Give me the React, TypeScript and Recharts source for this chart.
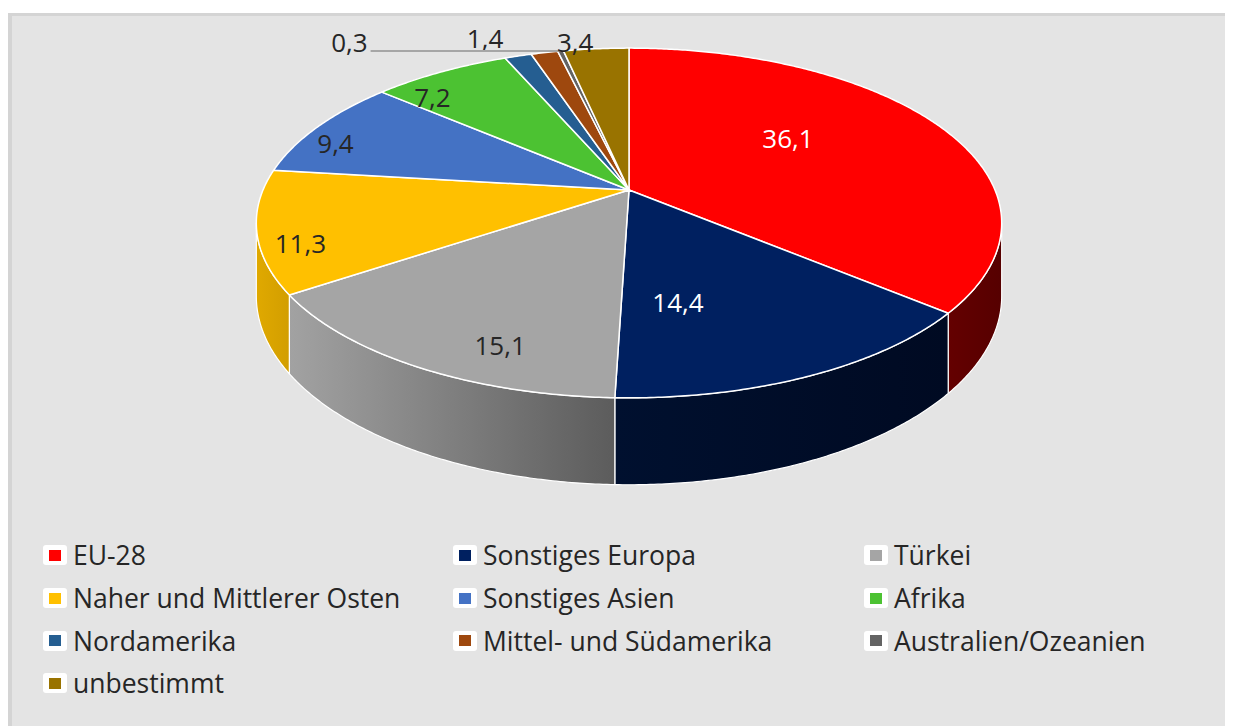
import React from 'react';
import { PieChart, Pie, Cell, Legend } from 'recharts';

// ---- data ----
const categories = [
  'EU-28',
  'Sonstiges Europa',
  'Türkei',
  'Naher und Mittlerer Osten',
  'Sonstiges Asien',
  'Afrika',
  'Nordamerika',
  'Mittel- und Südamerika',
  'Australien/Ozeanien',
  'unbestimmt',
];
const values = [36.1, 14.4, 15.1, 11.3, 9.4, 7.2, 1.4, 1.4, 0.3, 3.4];

// ---- styles ----
const TOP_COLORS = ['#ff0000', '#002060', '#a5a5a5', '#ffc000', '#4472c4', '#4cc232', '#255e91', '#9e480e', '#636363', '#997300'];
const SIDE_COLORS: [string, string][] = [
  ['#640000', '#560000'],
  ['#00102f', '#000a22'],
  ['#a2a2a2', '#5c5c5c'],
  ['#e0a900', '#d29e00'],
  ['#2f5596', '#2a4c88'],
  ['#369020', '#307f1c'],
  ['#1b456b', '#173d5e'],
  ['#73340a', '#652d09'],
  ['#474747', '#3d3d3d'],
  ['#705400', '#624900'],
];
const LABEL_COLORS = ['#ffffff', '#ffffff', '#262626', '#262626', '#262626', '#262626', '#262626', '#262626', '#262626', '#262626'];
// label placement: inside (radius fraction, angle shift) / outside (offset from rim) / leader / hidden
const LABEL_LAYOUT: any[] = [
  { mode: 'in', r: 0.566, d: -10.4 },
  { mode: 'in', r: 0.601, d: 12.7 },
  { mode: 'in', r: 0.838, d: -8 },
  { mode: 'in', r: 0.898, d: -5.8 },
  { mode: 'in', r: 0.896, d: -4.6 },
  { mode: 'in', r: 0.859, d: -7.9 },
  { mode: 'out', dx: -33, dy: -18 },
  { mode: 'none' },
  { mode: 'leader', len: 190 },
  { mode: 'out', dx: -21, dy: -7 },
];

const FONT = '"Open Sans", sans-serif';
const LABEL_SIZE = 26;
const LEGEND_SIZE = 26.5;
const Q = 0.1886; // perspective
const TILT = 0.4608; // vertical squash
const DEPTH = 0.1927; // wall height relative to radius
const SIL = (Math.asin(Q) * 180) / Math.PI;

const data = categories.map((name, i) => ({ name, value: values[i] }));
const fmt = (v: number) => v.toFixed(1).replace('.', ',');

const renderSlice = (props: any) => {
  const { cx, cy, outerRadius, startAngle, endAngle, midAngle, index, value } = props;
  const f = outerRadius;
  const g = outerRadius * TILT;
  const H = outerRadius * DEPTH;
  const proj = (phiDeg: number, k: number, drop = 0): [number, number] => {
    const p = (phiDeg * Math.PI) / 180;
    const u = k * Math.cos(p);
    const v = k * Math.sin(p);
    const w = 1 - Q * v;
    return [cx + (f * u) / w, cy + (g * v + drop) / w];
  };
  const arc = (a: number, b: number, drop: number) => {
    const n = Math.max(2, Math.ceil(Math.abs(b - a) / 0.5));
    const pts: [number, number][] = [];
    for (let i = 0; i <= n; i++) pts.push(proj(a + ((b - a) * i) / n, 1, drop));
    return pts;
  };
  const p1 = Math.min(-startAngle, -endAngle);
  const p2 = Math.max(-startAngle, -endAngle);
  const topPts = arc(p1, p2, 0);
  const topD = `M${cx},${cy} ` + topPts.map((p) => `L${p[0].toFixed(2)},${p[1].toFixed(2)}`).join(' ') + ' Z';

  const lo = Math.max(p1, SIL);
  const hi = Math.min(p2, 180 - SIL);
  let wall: React.ReactNode = null;
  if (hi > lo) {
    const upper = arc(lo, hi, 0);
    const lower = arc(hi, lo, H);
    const d = 'M' + upper.concat(lower).map((p) => `${p[0].toFixed(2)},${p[1].toFixed(2)}`).join(' L') + ' Z';
    wall = (
      <g>
        <defs>
          <linearGradient id={`wallg-${index}`} x1="0" y1="0" x2="1" y2="0">
            <stop offset="0%" stopColor={SIDE_COLORS[index][0]} />
            <stop offset="100%" stopColor={SIDE_COLORS[index][1]} />
          </linearGradient>
        </defs>
        <path d={d} fill={`url(#wallg-${index})`} stroke="#ffffff" strokeWidth={1.2} strokeLinejoin="round" />
      </g>
    );
  }

  const lay = LABEL_LAYOUT[index];
  const text = fmt(value);
  let label: React.ReactNode = null;
  const mid = -midAngle;
  const common = { fill: LABEL_COLORS[index], fontFamily: FONT, fontSize: LABEL_SIZE, dominantBaseline: 'central' as const };
  if (lay.mode === 'in') {
    const [x, y] = proj(mid + lay.d, lay.r);
    label = (
      <text x={x} y={y} textAnchor="middle" {...common}>
        {text}
      </text>
    );
  } else if (lay.mode === 'out') {
    const [x, y] = proj(mid, 1);
    label = (
      <text x={x + lay.dx} y={y + lay.dy} textAnchor="middle" {...common}>
        {text}
      </text>
    );
  } else if (lay.mode === 'leader') {
    const [x, y] = proj(mid, 1);
    label = (
      <g>
        <line x1={x} y1={y} x2={x - lay.len} y2={y} stroke="#a6a6a6" strokeWidth={2} />
        <text x={x - lay.len - 3} y={y - 9} textAnchor="end" {...common}>
          {text}
        </text>
      </g>
    );
  }

  return (
    <g>
      {wall}
      <path d={topD} fill={TOP_COLORS[index]} stroke="#ffffff" strokeWidth={1.5} strokeLinejoin="round" />
      {label}
    </g>
  );
};

const renderLegend = (props: any) => {
  const payload = [...(props.payload || [])].sort(
    (a: any, b: any) => categories.indexOf(a.value) - categories.indexOf(b.value)
  );
  return (
    <div
      style={{
        display: 'grid',
        gridTemplateColumns: '410px 411px 360px',
        fontFamily: FONT,
        fontSize: LEGEND_SIZE,
        color: '#262626',
      }}
    >
      {payload.map((p: any, i: number) => (
        <div key={i} style={{ display: 'flex', alignItems: 'center', height: 42.7 }}>
          <span
            style={{
              width: 24,
              height: 20,
              background: '#ffffff',
              borderRadius: 3,
              display: 'flex',
              alignItems: 'center',
              justifyContent: 'center',
              marginRight: 6,
              flexShrink: 0,
            }}
          >
            <span style={{ width: 12, height: 11, background: p.color, display: 'block' }} />
          </span>
          <span style={{ whiteSpace: 'nowrap' }}>{p.value}</span>
        </div>
      ))}
    </div>
  );
};

export default function App() {
  return (
    <div style={{ width: 1225, height: 713, paddingTop: 5, background: '#ffffff' }}>
      <style>{'html,body{overflow:hidden;}'}</style>
      <div
        style={{
          width: 1225,
          height: 713,
          boxSizing: 'border-box',
          background: '#e4e4e4',
          borderLeft: '4px solid #d4d4d4',
          borderTop: '3px solid #d4d4d4',
        }}
      >
        <PieChart width={1221} height={710} margin={{ top: 0, right: 0, bottom: 0, left: 0 }}>
          <Pie
            data={data}
            dataKey="value"
            nameKey="name"
            cx={617}
            cy={174}
            outerRadius={366}
            startAngle={90}
            endAngle={-270}
            stroke="none"
            fillOpacity={0}
            label={renderSlice}
            labelLine={false}
            isAnimationActive={false}
          >
            {data.map((d, i) => (
              <Cell key={d.name} fill={TOP_COLORS[i]} />
            ))}
          </Pie>
          <Legend
            content={renderLegend}
            wrapperStyle={{ left: 31, top: 518, width: 1190, right: 'auto', bottom: 'auto' }}
          />
        </PieChart>
      </div>
    </div>
  );
}
